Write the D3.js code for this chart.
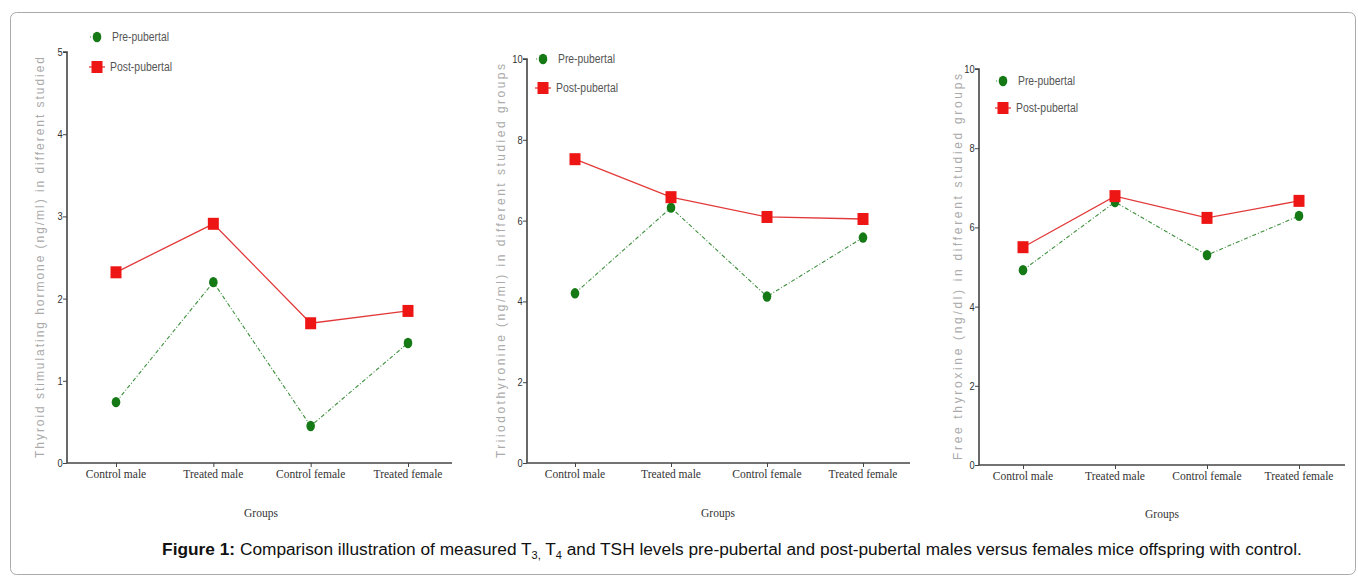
<!DOCTYPE html>
<html><head><meta charset="utf-8">
<script src="https://cdn.jsdelivr.net/npm/d3@7"></script>
<style>body{margin:0;background:#fff;}svg{display:block;}</style>
</head><body>
<svg id="c" width="1358" height="578"></svg>
<script>
const categories = ["Control male","Treated male","Control female","Treated female"];
const seriesNames = ["Pre-pubertal","Post-pubertal"];
// TSH
const tshPre  = [0.74, 2.2, 0.45, 1.46];
const tshPost = [2.32, 2.91, 1.70, 1.85];
// T3
const t3Pre  = [4.2, 6.32, 4.12, 5.58];
const t3Post = [7.52, 6.58, 6.09, 6.04];
// FT4
const ft4Pre  = [4.92, 6.64, 5.3, 6.29];
const ft4Post = [5.5, 6.79, 6.24, 6.67];
const ticksTSH = [0,1,2,3,4,5];
const ticks10 = [0,2,4,6,8,10];
const yLabels = ["Thyroid stimulating hormone (ng/ml) in different studied",
                 "Triiodothyronine (ng/ml) in different studied groups",
                 "Free thyroxine (ng/dl) in different studied groups"];
const xTitle = "Groups";

const svg = d3.select("#c");
svg.append("rect").attr("x",10.5).attr("y",12.5).attr("width",1345).attr("height",562)
  .attr("rx",6).attr("fill","none").attr("stroke","#aaa").attr("stroke-width",1);

const panels = [
  {pre:tshPre, post:tshPost, max:5, ticks:ticksTSH, ax:67, ax2:452, y0:463, y1:52, x0:116, x1:408,
   leg:{x:97,y1:37,y2:67}, lab:yLabels[0], labX:44, title:[261,517], xl:478},
  {pre:t3Pre, post:t3Post, max:10, ticks:ticks10, ax:527, ax2:910, y0:463, y1:59, x0:575, x1:863,
   leg:{x:543,y1:59,y2:88}, lab:yLabels[1], labX:505, title:[718,517], xl:478},
  {pre:ft4Pre, post:ft4Post, max:10, ticks:ticks10, ax:979, ax2:1345, y0:465, y1:69, x0:1023, x1:1299,
   leg:{x:1003,y1:81,y2:108}, lab:yLabels[2], labX:962, title:[1162,518], xl:480}
];

panels.forEach(p => {
  const g = svg.append("g");
  const y = d3.scaleLinear().domain([0,p.max]).range([p.y0,p.y1]);
  const x = d3.scalePoint().domain(categories).range([p.x0,p.x1]);
  // y axis
  const ya = g.append("g").attr("transform",`translate(${p.ax},0)`)
    .call(d3.axisLeft(y).tickValues(p.ticks).tickSize(4).tickFormat(d3.format("d")));
  ya.select(".domain").attr("stroke","#444").attr("stroke-width",1.6).attr("d",`M-4,${p.y1}H0V${p.y0}`);
  ya.selectAll(".tick line").attr("stroke","#444");
  ya.selectAll(".tick text").attr("font-family","'Liberation Sans',Arial,sans-serif")
    .attr("font-size",11).attr("fill","#333").attr("dx",2).attr("transform","scale(0.85,1)");
  // x axis
  const xa = g.append("g").attr("transform",`translate(0,${p.y0})`)
    .call(d3.axisBottom(x).tickSize(4).tickFormat(""));
  xa.select(".domain").attr("stroke","#444").attr("stroke-width",1.6).attr("d",`M${p.ax},0H${p.ax2}`);
  xa.selectAll(".tick line").attr("stroke","#444");
  categories.forEach(c => {
    g.append("text").attr("x",x(c)).attr("y",p.xl).attr("text-anchor","middle")
      .attr("font-family","'Liberation Serif','Times New Roman',serif").attr("font-size",11.5)
      .attr("fill","#333").text(c);
  });
  g.append("text").attr("x",p.title[0]).attr("y",p.title[1]).attr("text-anchor","middle")
    .attr("font-family","'Liberation Serif','Times New Roman',serif").attr("font-size",11.5)
    .attr("fill","#333").text(xTitle);
  // garbled y label
  const mid = (p.y0+p.y1)/2;
  g.append("text").attr("transform",`translate(${p.labX},${mid}) rotate(-90)`)
    .attr("text-anchor","middle").attr("font-family","'Liberation Sans',Arial,sans-serif")
    .attr("font-size",12).attr("fill","#aaa").attr("textLength",p.y0-p.y1-10)
    .attr("lengthAdjust","spacing").text(p.lab);
  // lines
  const line = d3.line().x((d,i)=>x(categories[i])).y(d=>y(d));
  g.append("path").datum(p.pre).attr("d",line).attr("fill","none")
    .attr("stroke","#3d8f3d").attr("stroke-width",1.1).attr("stroke-dasharray","4,2,1,2");
  g.append("path").datum(p.post).attr("d",line).attr("fill","none")
    .attr("stroke","#e23a3a").attr("stroke-width",1.3);
  g.selectAll(".pre").data(p.pre).enter().append("ellipse")
    .attr("cx",(d,i)=>x(categories[i])).attr("cy",d=>y(d)).attr("rx",4.3).attr("ry",5.2)
    .attr("fill","#157a15");
  g.selectAll(".post").data(p.post).enter().append("rect")
    .attr("x",(d,i)=>x(categories[i])-5.5).attr("y",d=>y(d)-6).attr("width",11).attr("height",12)
    .attr("fill","#ee1515");
  // legend
  const L = p.leg;
  g.append("line").attr("x1",L.x-7).attr("x2",L.x).attr("y1",L.y1).attr("y2",L.y1)
    .attr("stroke","#3d8f3d").attr("stroke-dasharray","1,2");
  g.append("ellipse").attr("cx",L.x).attr("cy",L.y1).attr("rx",4.3).attr("ry",5.2).attr("fill","#157a15");
  g.append("line").attr("x1",L.x-8).attr("x2",L.x+8).attr("y1",L.y2).attr("y2",L.y2)
    .attr("stroke","#e23a3a").attr("stroke-width",1.3);
  g.append("rect").attr("x",L.x-5.5).attr("y",L.y2-6).attr("width",11).attr("height",12).attr("fill","#ee1515");
  [[seriesNames[0],L.y1,15,57],[seriesNames[1],L.y2,13,62]].forEach(([t,yy,dx,w])=>{
    g.append("text").attr("x",L.x+dx).attr("y",yy+4)
      .attr("font-family","'Liberation Sans',Arial,sans-serif")
      .attr("font-size",12).attr("fill","#555").attr("textLength",w)
      .attr("lengthAdjust","spacingAndGlyphs").text(t);
  });
});

// caption
const cap = svg.append("text").attr("x",732).attr("y",555).attr("text-anchor","middle")
  .attr("font-family","'Liberation Sans',Arial,sans-serif").attr("font-size",17.3).attr("fill","#111");
cap.append("tspan").attr("font-weight","bold").text("Figure 1:");
cap.append("tspan").text(" Comparison illustration of measured T");
cap.append("tspan").attr("font-size",11).attr("dy",4).text("3,");
cap.append("tspan").attr("dy",-4).text(" T");
cap.append("tspan").attr("font-size",11).attr("dy",4).text("4");
cap.append("tspan").attr("dy",-4).text(" and TSH levels pre-pubertal and post-pubertal males versus females mice offspring with control.");
</script>
</body></html>
